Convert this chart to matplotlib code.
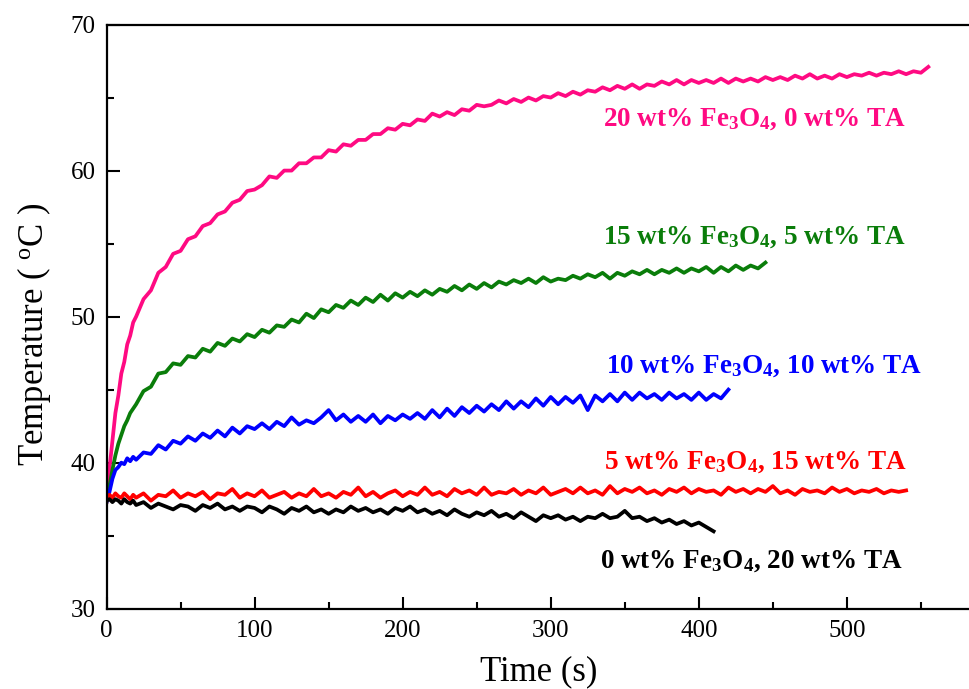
import numpy as np
import matplotlib
matplotlib.use("Agg")
import matplotlib.pyplot as plt
from matplotlib.ticker import MultipleLocator, FixedLocator

plt.rcParams['font.family'] = ['Liberation Serif', 'DejaVu Serif']
plt.rcParams['mathtext.fontset'] = 'custom'
plt.rcParams['mathtext.rm'] = 'Liberation Serif'
plt.rcParams['mathtext.it'] = 'Liberation Serif:italic'
plt.rcParams['mathtext.bf'] = 'Liberation Serif:bold'

# ---------------- data (temperature in deg C) ----------------
# early samples every 2 s (0..18 s), then every 5 s from 20 s
pink_T = [37.3, 39.6, 41.5, 43.4, 44.6, 46.1, 46.9, 48.1, 48.7, 49.6,
          50.0, 51.2, 51.8, 53.0, 53.4, 54.3, 54.5, 55.3, 55.5, 56.2, 56.4, 57.0, 57.2, 57.8, 58.0, 58.6, 58.7,
          59.0, 59.6, 59.5, 60.0, 60.0, 60.5, 60.5, 60.9, 60.9, 61.4, 61.3, 61.8, 61.7, 62.1, 62.1, 62.5, 62.5, 62.9, 62.8, 63.2,
          63.1, 63.5, 63.4, 63.9, 63.7, 64.0, 63.8, 64.2, 64.1, 64.5, 64.4, 64.5, 64.8, 64.6, 64.9, 64.7, 65.0, 64.8, 65.1, 65.0,
          65.3, 65.1, 65.4, 65.2, 65.5, 65.4, 65.7, 65.5, 65.8, 65.6, 65.9, 65.6, 65.9, 65.8, 66.1, 65.9, 66.2, 65.9, 66.2, 66.0,
          66.2, 66.0, 66.3, 66.0, 66.3, 66.1, 66.3, 66.1, 66.4, 66.2, 66.4, 66.2, 66.5, 66.3, 66.6, 66.3, 66.5, 66.3, 66.6, 66.4,
          66.6, 66.5, 66.7, 66.5, 66.7, 66.6, 66.8, 66.6, 66.8, 66.7, 67.1]

green_T = [37.3, 38.4, 39.5, 40.5, 41.3, 41.9, 42.5, 42.9, 43.4, 43.7,
           44.0, 44.9, 45.2, 46.1, 46.2, 46.8, 46.7, 47.3, 47.2, 47.8, 47.6, 48.2, 48.0, 48.5, 48.3, 48.8, 48.6,
           49.1, 48.9, 49.4, 49.3, 49.8, 49.6, 50.2, 49.9, 50.5, 50.3, 50.8, 50.6, 51.1, 50.8, 51.3, 51.0, 51.5,
           51.1, 51.6, 51.3, 51.7, 51.4, 51.8, 51.5, 51.9, 51.7, 52.1, 51.8, 52.2, 51.9, 52.3, 52.0, 52.4, 52.2,
           52.5, 52.3, 52.6, 52.3, 52.7, 52.4, 52.6, 52.5, 52.8, 52.6, 52.9, 52.7, 53.0, 52.6, 53.0, 52.8, 53.1,
           52.9, 53.2, 52.9, 53.2, 53.0, 53.3, 53.0, 53.3, 53.1, 53.4, 53.0, 53.4, 53.1, 53.5, 53.2, 53.5, 53.3, 53.7]

blue_T = [37.3, 38.0, 38.9, 39.5, 39.7, 40.0, 39.9, 40.3, 40.1, 40.4,
          40.2, 40.7, 40.6, 41.2, 40.9, 41.5, 41.3, 41.8, 41.5, 42.0, 41.7, 42.2, 41.8, 42.4, 42.0, 42.5, 42.3,
          42.7, 42.3, 42.8, 42.5, 43.1, 42.6, 42.9, 42.7, 43.1, 43.6, 42.9, 43.3, 42.8, 43.2, 42.8, 43.3, 42.7,
          43.2, 42.9, 43.3, 43.0, 43.4, 43.0, 43.6, 43.1, 43.7, 43.2, 43.8, 43.4, 43.9, 43.5, 44.0, 43.6, 44.2,
          43.7, 44.2, 43.8, 44.4, 43.9, 44.5, 44.0, 44.5, 44.1, 44.6, 43.6, 44.6, 44.2, 44.7, 44.2, 44.8, 44.3,
          44.8, 44.4, 44.7, 44.3, 44.8, 44.4, 44.7, 44.3, 44.8, 44.3, 44.7, 44.4, 45.0]

red_T = [37.4, 37.8, 37.6, 37.9, 37.7, 37.6, 37.9, 37.7, 37.5, 37.8,
         37.6, 37.9, 37.4, 37.8, 37.7, 38.1, 37.6, 37.9, 37.7, 38.0, 37.5, 37.9, 37.8, 38.2, 37.6, 37.9, 37.7,
         38.1, 37.6, 37.8, 38.0, 37.6, 37.9, 37.7, 38.2, 37.7, 37.9, 37.6, 38.0, 37.8, 38.3, 37.7, 38.0, 37.6,
         37.9, 38.1, 37.7, 38.0, 37.8, 38.3, 37.8, 38.0, 37.7, 38.2, 37.9, 38.1, 37.8, 38.3, 37.8, 38.0, 37.9,
         38.2, 37.8, 38.1, 37.9, 38.3, 37.8, 38.0, 38.2, 37.9, 38.3, 37.9, 38.1, 37.8, 38.4, 37.9, 38.2, 38.0,
         38.3, 37.9, 38.1, 37.8, 38.2, 38.0, 38.3, 37.9, 38.2, 38.0, 38.1, 37.8, 38.3, 38.0, 38.2, 37.9, 38.2,
         38.0, 38.4, 37.9, 38.1, 37.8, 38.2, 38.0, 38.1, 37.9, 38.3, 38.0, 38.2, 37.9, 38.1, 38.0, 38.2, 37.9,
         38.1, 38.0, 38.1]

black_T = [37.4, 37.5, 37.3, 37.5, 37.4, 37.2, 37.5, 37.3, 37.2, 37.4,
           37.1, 37.3, 36.9, 37.2, 37.0, 36.8, 37.1, 37.0, 36.7, 37.1, 36.9, 37.2, 36.8, 37.0, 36.7, 37.0, 36.9,
           36.6, 37.0, 36.8, 36.5, 36.9, 36.7, 37.0, 36.6, 36.8, 36.5, 36.8, 36.6, 37.0, 36.7, 36.9, 36.6, 36.8,
           36.5, 36.9, 36.7,
           37.0, 36.6, 36.8, 36.5, 36.7, 36.4, 36.8, 36.5, 36.3, 36.6, 36.4, 36.7, 36.3, 36.5, 36.2, 36.6, 36.3,
           36.0, 36.4, 36.2,
           36.4, 36.1, 36.3, 36.0, 36.3, 36.2, 36.5, 36.2, 36.3, 36.7,
           36.2, 36.3, 36.0, 36.2, 35.9, 36.1, 35.8, 36.0, 35.7, 35.9, 35.6, 35.3]

series_colors = ['#FF0A82', '#0A7D0A', '#0000FF', '#FF0000', '#000000']
series_labels = [r"20 wt% Fe$_\mathbf{3}$O$_\mathbf{4}$, 0 wt% TA",
                 r"15 wt% Fe$_\mathbf{3}$O$_\mathbf{4}$, 5 wt% TA",
                 r"10 wt% Fe$_\mathbf{3}$O$_\mathbf{4}$, 10 wt% TA",
                 r"5 wt% Fe$_\mathbf{3}$O$_\mathbf{4}$, 15 wt% TA",
                 r"0 wt% Fe$_\mathbf{3}$O$_\mathbf{4}$, 20 wt% TA"]
label_pos = [(335, 63.5), (335, 55.45), (337, 46.6), (336, 40.05), (333, 33.25)]
x_major = [0, 100, 200, 300, 400, 500]
x_minor = [50, 150, 250, 350, 450, 550]


def times_for(vals):
    n = len(vals)
    return np.r_[np.arange(0, 20, 2), 20 + 5 * np.arange(n - 10)]


fig = plt.figure(figsize=(9.70, 6.89), dpi=100)
ax = fig.add_axes([0.1098, 0.1165, 0.8915, 0.8479])

for vals, col in zip([pink_T, green_T, blue_T, red_T, black_T], series_colors):
    ax.plot(times_for(vals), vals, color=col, lw=2.7, solid_joinstyle='round')

for (x, y), lab, col in zip(label_pos, series_labels, series_colors):
    ax.text(x, y, lab, color=col, fontsize=19.5, fontweight='bold', va='center', ha='left')

ax.set_xlim(0, 584)
ax.set_ylim(30, 70)
ax.xaxis.set_major_locator(FixedLocator(x_major))
ax.xaxis.set_minor_locator(FixedLocator(x_minor))
ax.yaxis.set_major_locator(MultipleLocator(10))
ax.yaxis.set_minor_locator(MultipleLocator(5))
ax.tick_params(which='both', direction='in', top=False, right=False, width=1.5, labelsize=18)
ax.tick_params(which='major', length=9, pad=8)
ax.tick_params(which='minor', length=5)
for s in ax.spines.values():
    s.set_linewidth(1.6)
ax.spines['right'].set_visible(False)

ax.set_xlabel("Time (s)", fontsize=25, labelpad=10)
ax.set_ylabel(r"Temperature ( $^{\mathrm{o}}$C )", fontsize=25, labelpad=10)
ax.yaxis.set_label_coords(-0.062, 0.47)

fig.savefig("out.png", dpi=100)
